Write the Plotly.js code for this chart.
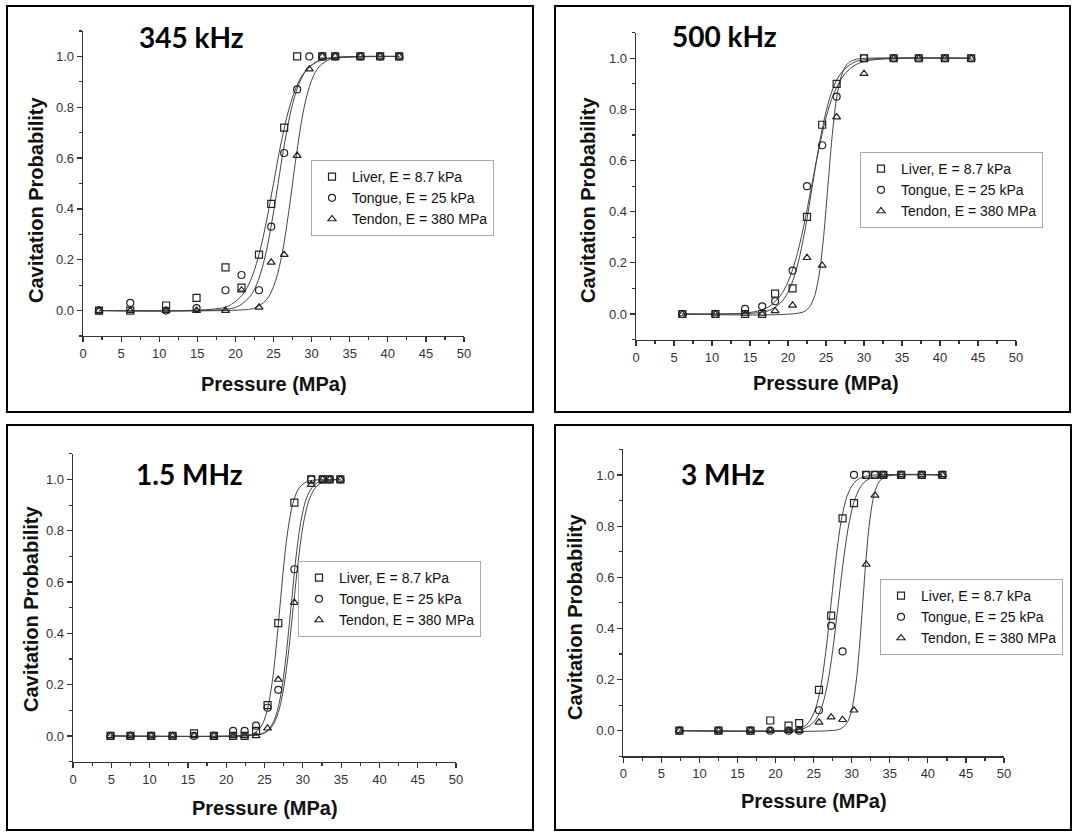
<!DOCTYPE html>
<html>
<head>
<meta charset="utf-8">
<script src="https://cdn.plot.ly/plotly-3.0.1.min.js"></script>
<style>html,body{margin:0;padding:0;background:#fff;}#chart{width:1074px;height:832px;}</style>
</head>
<body>
<div id="chart"></div>
<script>
// ---------- Panel titles & series names ----------
const panelTitles = ["345 kHz", "500 kHz", "1.5 MHz", "3 MHz"];
const seriesNames = ["Liver, E = 8.7 kPa", "Tongue, E = 25 kPa", "Tendon, E = 380 MPa"];
const xTitle = "Pressure (MPa)";
const yTitle = "Cavitation Probability";
const yTickVals = [0, 0.2, 0.4, 0.6, 0.8, 1.0];
const yTickText = ["0.0", "0.2", "0.4", "0.6", "0.8", "1.0"];

// ---------- 345 kHz ----------
const k345_liver_x  = [2.1, 6.2, 10.9, 14.9, 18.7, 20.8, 23.1, 24.7, 26.4, 28.1, 31.4, 33.1, 36.4, 39.0, 41.5];
const k345_liver_y  = [0, 0, 0.02, 0.05, 0.17, 0.09, 0.22, 0.42, 0.72, 1.0, 1, 1, 1, 1, 1];
const k345_tongue_x = [2.1, 6.2, 10.9, 14.9, 18.7, 20.8, 23.1, 24.7, 26.4, 28.1, 29.7, 31.4, 33.1, 36.4, 39.0, 41.5];
const k345_tongue_y = [0, 0.03, 0, 0.01, 0.08, 0.14, 0.08, 0.33, 0.62, 0.87, 1.0, 1, 1, 1, 1, 1];
const k345_tendon_x = [2.1, 6.2, 10.9, 14.9, 18.7, 20.8, 23.1, 24.7, 26.4, 28.1, 29.7, 31.4, 33.1, 36.4, 39.0, 41.5];
const k345_tendon_y = [0, 0, 0, 0, 0, 0.08, 0.013, 0.19, 0.22, 0.61, 0.95, 1, 1, 1, 1, 1];
// fitted curves
const k345_liverFit_x  = [2.1, 18, 19.5, 21, 22, 23, 24, 25, 26, 27, 28, 29, 30.5, 32, 41.5];
const k345_liverFit_y  = [0, 0.009, 0.025, 0.065, 0.12, 0.21, 0.34, 0.5, 0.66, 0.79, 0.88, 0.935, 0.975, 0.99, 1];
const k345_tongueFit_x = [2.1, 19, 20.5, 22, 23, 24, 25, 25.6, 26.5, 27.5, 28.5, 29.5, 31, 32.5, 41.5];
const k345_tongueFit_y = [0, 0.006, 0.019, 0.059, 0.119, 0.226, 0.387, 0.5, 0.666, 0.812, 0.903, 0.953, 0.984, 0.995, 1];
const k345_tendonFit_x = [2.1, 21, 22.5, 24, 25, 26, 27, 27.5, 28, 29, 30, 31, 32.5, 34, 41.5];
const k345_tendonFit_y = [0, 0.003, 0.010, 0.040, 0.094, 0.204, 0.389, 0.5, 0.611, 0.796, 0.906, 0.960, 0.990, 0.997, 1];

// ---------- 500 kHz ----------
const k500_liver_x  = [6.1, 10.45, 14.35, 16.6, 18.3, 20.6, 22.5, 24.5, 26.4, 30.0, 33.9, 37.2, 40.65, 44.1];
const k500_liver_y  = [0, 0, 0, 0, 0.08, 0.10, 0.38, 0.74, 0.90, 1.0, 1, 1, 1, 1];
const k500_tongue_x = [6.1, 10.45, 14.35, 16.6, 18.3, 20.6, 22.5, 24.5, 26.4, 30.0, 33.9, 37.2, 40.65, 44.1];
const k500_tongue_y = [0, 0, 0.02, 0.03, 0.05, 0.17, 0.50, 0.66, 0.85, 1.0, 1, 1, 1, 1];
const k500_tendon_x = [6.1, 10.45, 14.35, 16.6, 18.3, 20.6, 22.5, 24.5, 26.4, 30.0, 33.9, 37.2, 40.65, 44.1];
const k500_tendon_y = [0, 0, 0, 0, 0.012, 0.034, 0.22, 0.19, 0.77, 0.94, 1, 1, 1, 1];
const k500_liverFit_x  = [6.1, 16, 17.5, 19, 20, 21, 22, 23.2, 24, 25, 26, 27, 28.5, 30, 44.1];
const k500_liverFit_y  = [0, 0.005, 0.014, 0.043, 0.085, 0.164, 0.291, 0.5, 0.644, 0.791, 0.888, 0.943, 0.981, 0.994, 1];
const k500_tongueFit_x = [6.1, 14, 16, 17.5, 19, 20, 21, 22, 23.1, 24, 25, 26, 27.5, 29, 31, 44.1];
const k500_tongueFit_y = [0, 0.003, 0.012, 0.029, 0.072, 0.126, 0.212, 0.334, 0.5, 0.637, 0.767, 0.860, 0.940, 0.976, 0.993, 1];
const k500_tendonFit_x = [6.1, 21.5, 22.5, 23.3, 24, 24.6, 25.25, 25.9, 26.5, 27.2, 28, 29, 30.5, 44.1];
const k500_tendonFit_y = [0, 0.004, 0.017, 0.054, 0.137, 0.277, 0.5, 0.723, 0.863, 0.946, 0.983, 0.996, 1, 1];

// ---------- 1.5 MHz ----------
const m15_liver_x  = [4.9, 7.5, 10.2, 13.0, 15.8, 18.4, 20.9, 22.4, 23.9, 25.4, 26.8, 28.9, 31.1, 32.6, 33.5, 34.9];
const m15_liver_y  = [0, 0, 0, 0, 0.01, 0, 0, 0, 0.02, 0.12, 0.44, 0.91, 1.0, 1, 1, 1];
const m15_tongue_x = [4.9, 7.5, 10.2, 13.0, 15.8, 18.4, 20.9, 22.4, 23.9, 25.4, 26.8, 28.9, 31.1, 32.6, 33.5, 34.9];
const m15_tongue_y = [0, 0, 0, 0, 0, 0, 0.02, 0.02, 0.04, 0.11, 0.18, 0.65, 1.0, 1, 1, 1];
const m15_tendon_x = [4.9, 7.5, 10.2, 13.0, 15.8, 18.4, 20.9, 22.4, 23.9, 25.4, 26.8, 28.9, 31.1, 32.6, 33.5, 34.9];
const m15_tendon_y = [0, 0, 0, 0, 0, 0, 0, 0, 0, 0.03, 0.22, 0.52, 0.98, 1, 1, 1];
const m15_liverFit_x  = [4.9, 22.5, 23.5, 24.5, 25.3, 26, 26.5, 27, 27.5, 28, 28.7, 29.5, 30.5, 31.5, 34.9];
const m15_liverFit_y  = [0, 0.0025, 0.009, 0.034, 0.094, 0.209, 0.34, 0.5, 0.66, 0.791, 0.906, 0.966, 0.991, 0.9975, 1];
const m15_tongueFit_x = [4.9, 23.5, 24.5, 25.5, 26.3, 27, 27.6, 28.45, 29.2, 29.9, 30.6, 31.5, 32.5, 34.9];
const m15_tongueFit_y = [0, 0.002, 0.007, 0.024, 0.064, 0.14, 0.257, 0.5, 0.719, 0.86, 0.936, 0.978, 0.994, 1];
const m15_tendonFit_x = [4.9, 23.5, 24.8, 25.8, 26.6, 27.3, 28, 28.75, 29.5, 30.2, 30.9, 31.8, 33, 34.9];
const m15_tendonFit_y = [0, 0.002, 0.009, 0.03, 0.074, 0.153, 0.293, 0.5, 0.707, 0.847, 0.926, 0.973, 0.993, 1];

// ---------- 3 MHz ----------
const m3_liver_x  = [7.36, 12.5, 16.7, 19.3, 21.7, 23.1, 25.7, 27.3, 28.8, 30.3, 31.9, 33.05, 34.15, 36.5, 39.2, 41.9];
const m3_liver_y  = [0, 0, 0, 0.04, 0.02, 0.03, 0.16, 0.45, 0.83, 0.89, 1.0, 1.0, 1, 1, 1, 1];
const m3_tongue_x = [7.36, 12.5, 16.7, 19.3, 21.7, 23.1, 25.7, 27.3, 28.8, 30.3, 31.9, 33.05, 34.15, 36.5, 39.2, 41.9];
const m3_tongue_y = [0, 0, 0, 0, 0, 0, 0.08, 0.41, 0.31, 1.0, 1.0, 1.0, 1, 1, 1, 1];
const m3_tendon_x = [7.36, 12.5, 16.7, 19.3, 21.7, 23.1, 25.7, 27.3, 28.8, 30.3, 31.9, 33.05, 34.15, 36.5, 39.2, 41.9];
const m3_tendon_y = [0, 0, 0, 0, 0, 0, 0.033, 0.053, 0.043, 0.08, 0.65, 0.92, 1, 1, 1, 1];
const m3_liverFit_x  = [7.36, 21.5, 22.8, 24, 25, 25.8, 26.6, 27.3, 28, 28.8, 29.6, 30.6, 31.8, 33, 41.9];
const m3_liverFit_y  = [0, 0.001, 0.006, 0.022, 0.067, 0.151, 0.31, 0.5, 0.69, 0.849, 0.933, 0.978, 0.994, 1, 1];
const m3_tongueFit_x = [7.36, 22.5, 23.8, 25, 26, 26.8, 27.5, 28.25, 29, 29.7, 30.5, 31.5, 32.7, 34, 41.9];
const m3_tongueFit_y = [0, 0.0025, 0.01, 0.033, 0.088, 0.181, 0.314, 0.5, 0.686, 0.819, 0.912, 0.967, 0.99, 0.9975, 1];
const m3_tendonFit_x = [7.36, 27.5, 28.5, 29.3, 29.9, 30.5, 31, 31.45, 31.9, 32.4, 33, 33.6, 34.5, 41.9];
const m3_tendonFit_y = [0, 0.001, 0.007, 0.027, 0.07, 0.171, 0.321, 0.5, 0.679, 0.829, 0.93, 0.973, 0.994, 1];

// ---------- assemble ----------
const panels = [
  {pts: [[k345_liver_x, k345_liver_y], [k345_tongue_x, k345_tongue_y], [k345_tendon_x, k345_tendon_y]],
   fits: [[k345_liverFit_x, k345_liverFit_y], [k345_tongueFit_x, k345_tongueFit_y], [k345_tendonFit_x, k345_tendonFit_y]]},
  {pts: [[k500_liver_x, k500_liver_y], [k500_tongue_x, k500_tongue_y], [k500_tendon_x, k500_tendon_y]],
   fits: [[k500_liverFit_x, k500_liverFit_y], [k500_tongueFit_x, k500_tongueFit_y], [k500_tendonFit_x, k500_tendonFit_y]]},
  {pts: [[m15_liver_x, m15_liver_y], [m15_tongue_x, m15_tongue_y], [m15_tendon_x, m15_tendon_y]],
   fits: [[m15_liverFit_x, m15_liverFit_y], [m15_tongueFit_x, m15_tongueFit_y], [m15_tendonFit_x, m15_tendonFit_y]]},
  {pts: [[m3_liver_x, m3_liver_y], [m3_tongue_x, m3_tongue_y], [m3_tendon_x, m3_tendon_y]],
   fits: [[m3_liverFit_x, m3_liverFit_y], [m3_tongueFit_x, m3_tongueFit_y], [m3_tendonFit_x, m3_tendonFit_y]]}
];

// layout geometry (pixels in the 1074x832 page)
const W = 1074, H = 832;
const px = v => v / W;
const py = v => 1 - v / H;
const geom = [
  {x0: 83, x1: 464, yb: 336.0, yt: 31.0, box: [7, 6, 533, 412], leg: [311, 160], title: [137, 37], xt: [273.5, 384], yt_: [36, 200]},
  {x0: 636, x1: 1016, yb: 339.6, yt: 32.7, box: [555, 6, 1070, 412], leg: [860, 152], title: [670, 36], xt: [826, 383], yt_: [588, 200]},
  {x0: 73, x1: 456, yb: 761.6, yt: 453.8, box: [7, 425, 533, 830], leg: [298, 561], title: [134, 474], xt: [264.5, 808], yt_: [31, 609]},
  {x0: 623.3, x1: 1004, yb: 756.3, yt: 449.4, box: [555, 425, 1071, 830], leg: [880, 579], title: [679, 474], xt: [813.5, 801], yt_: [575, 617]}
];

const symbols = ["square-open", "circle-open", "triangle-up-open"];
const tickFont = {family: "Arial, 'Liberation Sans', sans-serif", size: 13, color: "#333"};
const traces = [];
const layout = {
  width: W, height: H,
  margin: {l: 0, r: 0, t: 0, b: 0},
  paper_bgcolor: "#fff", plot_bgcolor: "rgba(0,0,0,0)",
  showlegend: true,
  shapes: [], annotations: []
};

panels.forEach((p, i) => {
  const n = i + 1;
  const xa = n === 1 ? "x" : "x" + n;
  const ya = n === 1 ? "y" : "y" + n;
  const legName = n === 1 ? "legend" : "legend" + n;
  const g = geom[i];
  p.fits.forEach((f) => {
    traces.push({x: f[0], y: f[1], xaxis: xa, yaxis: ya, mode: "lines",
      line: {color: "#444", width: 1, shape: "spline", smoothing: 1}, showlegend: false, hoverinfo: "skip"});
  });
  p.pts.forEach((s, j) => {
    traces.push({x: s[0], y: s[1], xaxis: xa, yaxis: ya, mode: "markers", name: seriesNames[j],
      legend: legName, showlegend: true,
      marker: {symbol: symbols[j], size: 7, color: "#222", line: {width: 1.2, color: "#222"}}});
  });
  const xKey = n === 1 ? "xaxis" : "xaxis" + n;
  const yKey = n === 1 ? "yaxis" : "yaxis" + n;
  layout[xKey] = {
    domain: [px(g.x0), px(g.x1)], anchor: ya, range: [0, 50], tick0: 0, dtick: 5,
    ticks: "outside", ticklen: 5, tickwidth: 1.2, tickcolor: "#333",
    showline: true, linecolor: "#333", linewidth: 1.3, showgrid: false, zeroline: false,
    minor: {dtick: 2.5, ticks: "outside", ticklen: 3, tickwidth: 1.2, tickcolor: "#333", showgrid: false},
    tickfont: tickFont, automargin: false
  };
  layout[yKey] = {
    domain: [py(g.yb), py(g.yt)], anchor: xa, range: [-0.1, 1.1],
    tickvals: yTickVals, ticktext: yTickText,
    ticks: "outside", ticklen: 5, tickwidth: 1.2, tickcolor: "#333",
    showline: true, linecolor: "#333", linewidth: 1.3, showgrid: false, zeroline: false,
    minor: {tickvals: [-0.1, 0.1, 0.3, 0.5, 0.7, 0.9, 1.1], ticks: "outside", ticklen: 3, tickwidth: 1.2, tickcolor: "#333", showgrid: false},
    tickfont: tickFont, automargin: false
  };
  layout[legName] = {
    x: px(g.leg[0]), y: py(g.leg[1]), xref: "paper", yref: "paper", xanchor: "left", yanchor: "top",
    bgcolor: "#fff", bordercolor: "#aaa", borderwidth: 1,
    font: {family: "Arial, 'Liberation Sans', sans-serif", size: 14, color: "#111"},
    tracegroupgap: 0, itemwidth: 30
  };
  layout.shapes.push({type: "rect", xref: "paper", yref: "paper",
    x0: px(g.box[0]), x1: px(g.box[2]), y0: py(g.box[3]), y1: py(g.box[1]),
    line: {color: "#000", width: 2}, fillcolor: "rgba(0,0,0,0)", layer: "below"});
  layout.annotations.push({text: "<b>" + panelTitles[i] + "</b>", xref: "paper", yref: "paper",
    x: px(g.title[0]), y: py(g.title[1]), xanchor: "left", yanchor: "middle", showarrow: false,
    font: {family: "Lato, 'Open Sans', sans-serif", size: 28, color: "#000"}});
  layout.annotations.push({text: "<b>" + xTitle + "</b>", xref: "paper", yref: "paper",
    x: px(g.xt[0]), y: py(g.xt[1]), xanchor: "center", yanchor: "middle", showarrow: false,
    font: {family: "Arial, 'Liberation Sans', sans-serif", size: 20, color: "#111"}});
  layout.annotations.push({text: "<b>" + yTitle + "</b>", xref: "paper", yref: "paper",
    x: px(g.yt_[0]), y: py(g.yt_[1]), xanchor: "center", yanchor: "middle", showarrow: false, textangle: -90,
    font: {family: "Arial, 'Liberation Sans', sans-serif", size: 20, color: "#111"}});
});

Plotly.newPlot("chart", traces, layout, {staticPlot: true, displayModeBar: false});
</script>
</body>
</html>
